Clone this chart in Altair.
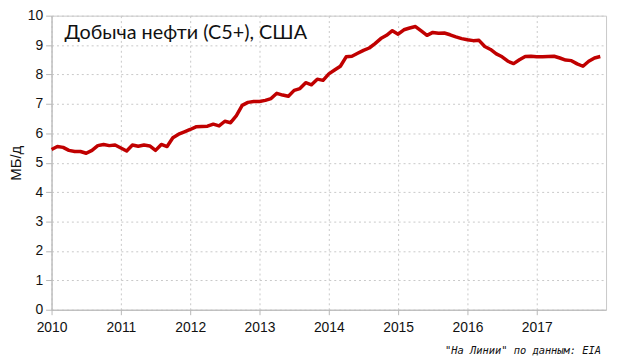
import altair as alt
import pandas as pd

start_year = 2010
production = [
    5.45, 5.55, 5.52, 5.42, 5.38, 5.38, 5.32, 5.42, 5.58, 5.62, 5.58, 5.60,
    5.50, 5.40, 5.60, 5.56, 5.60, 5.57, 5.42, 5.62, 5.55, 5.85, 5.97, 6.05,
    6.13, 6.22, 6.23, 6.24, 6.31, 6.25, 6.41, 6.36, 6.60, 6.95, 7.05, 7.08,
    7.08, 7.12, 7.18, 7.36, 7.30, 7.26, 7.46, 7.52, 7.72, 7.65, 7.84, 7.80,
    8.02, 8.15, 8.28, 8.60, 8.62, 8.72, 8.82, 8.90, 9.05, 9.22, 9.33, 9.49,
    9.37, 9.52, 9.58, 9.63, 9.48, 9.33, 9.43, 9.40, 9.41, 9.35, 9.28, 9.22,
    9.18, 9.15, 9.16, 8.95, 8.85, 8.70, 8.60, 8.45, 8.37, 8.50, 8.61, 8.62,
    8.60, 8.60, 8.61, 8.62, 8.56, 8.49, 8.47, 8.36, 8.28, 8.45, 8.56, 8.61,
]
year_ticks = [2010, 2011, 2012, 2013, 2014, 2015, 2016, 2017]
y_ticks = [0, 1, 2, 3, 4, 5, 6, 7, 8, 9, 10]
title_text = "Добыча нефти (С5+), США"
y_title = "МБ/д"
source_text = "\"На Линии\" по данным: EIA"

df = pd.DataFrame({
    "t": [start_year + i / 12 for i in range(len(production))],
    "v": production,
})

line = alt.Chart(df).mark_line(color="#C00000", strokeWidth=3.5, strokeJoin="round").encode(
    x=alt.X("t:Q",
            scale=alt.Scale(domain=[2010, 2018], nice=False, zero=False),
            axis=alt.Axis(values=year_ticks, format="d", title=None,
                          labelFont="Liberation Sans", labelFontSize=14, labelColor="#111",
                          labelPadding=6, tickSize=5, tickColor="#b8b8b8",
                          domainColor="#b8b8b8", grid=True, gridColor="#c8c8c8",
                          gridDash=[2, 3], labelFlush=False)),
    y=alt.Y("v:Q",
            scale=alt.Scale(domain=[0, 10], nice=False),
            axis=alt.Axis(values=y_ticks, title=y_title, titleFont="Liberation Sans",
                          titleFontSize=15, titleFontWeight="normal", titleColor="#111",
                          titlePadding=4,
                          labelFont="Liberation Sans", labelFontSize=14, labelColor="#111",
                          labelPadding=3, tickSize=6, tickColor="#b8b8b8",
                          domainColor="#b8b8b8", grid=True, gridColor="#c8c8c8",
                          gridDash=[2, 3])),
)

title = alt.Chart(pd.DataFrame({"s": [title_text]})).mark_text(
    align="left", baseline="alphabetic", font="Lato", fontSize=20, color="#111"
).encode(text="s:N", x=alt.value(13), y=alt.value(24))

source = alt.Chart(pd.DataFrame({"s": [source_text]})).mark_text(
    align="right", baseline="middle", font="DejaVu Sans Mono", fontSize=10.5,
    fontStyle="italic", color="#111"
).encode(text="s:N", x=alt.value(555), y=alt.value(339))

chart = alt.layer(line, title, source).properties(
    width=560, height=297,
    autosize="none",
    padding={"left": 44, "top": 6, "right": 6, "bottom": 45},
    background="white",
).configure_view(stroke="#c8c8c8", strokeWidth=1)

chart.save("out.html", embed_options={"renderer": "svg", "actions": False})
